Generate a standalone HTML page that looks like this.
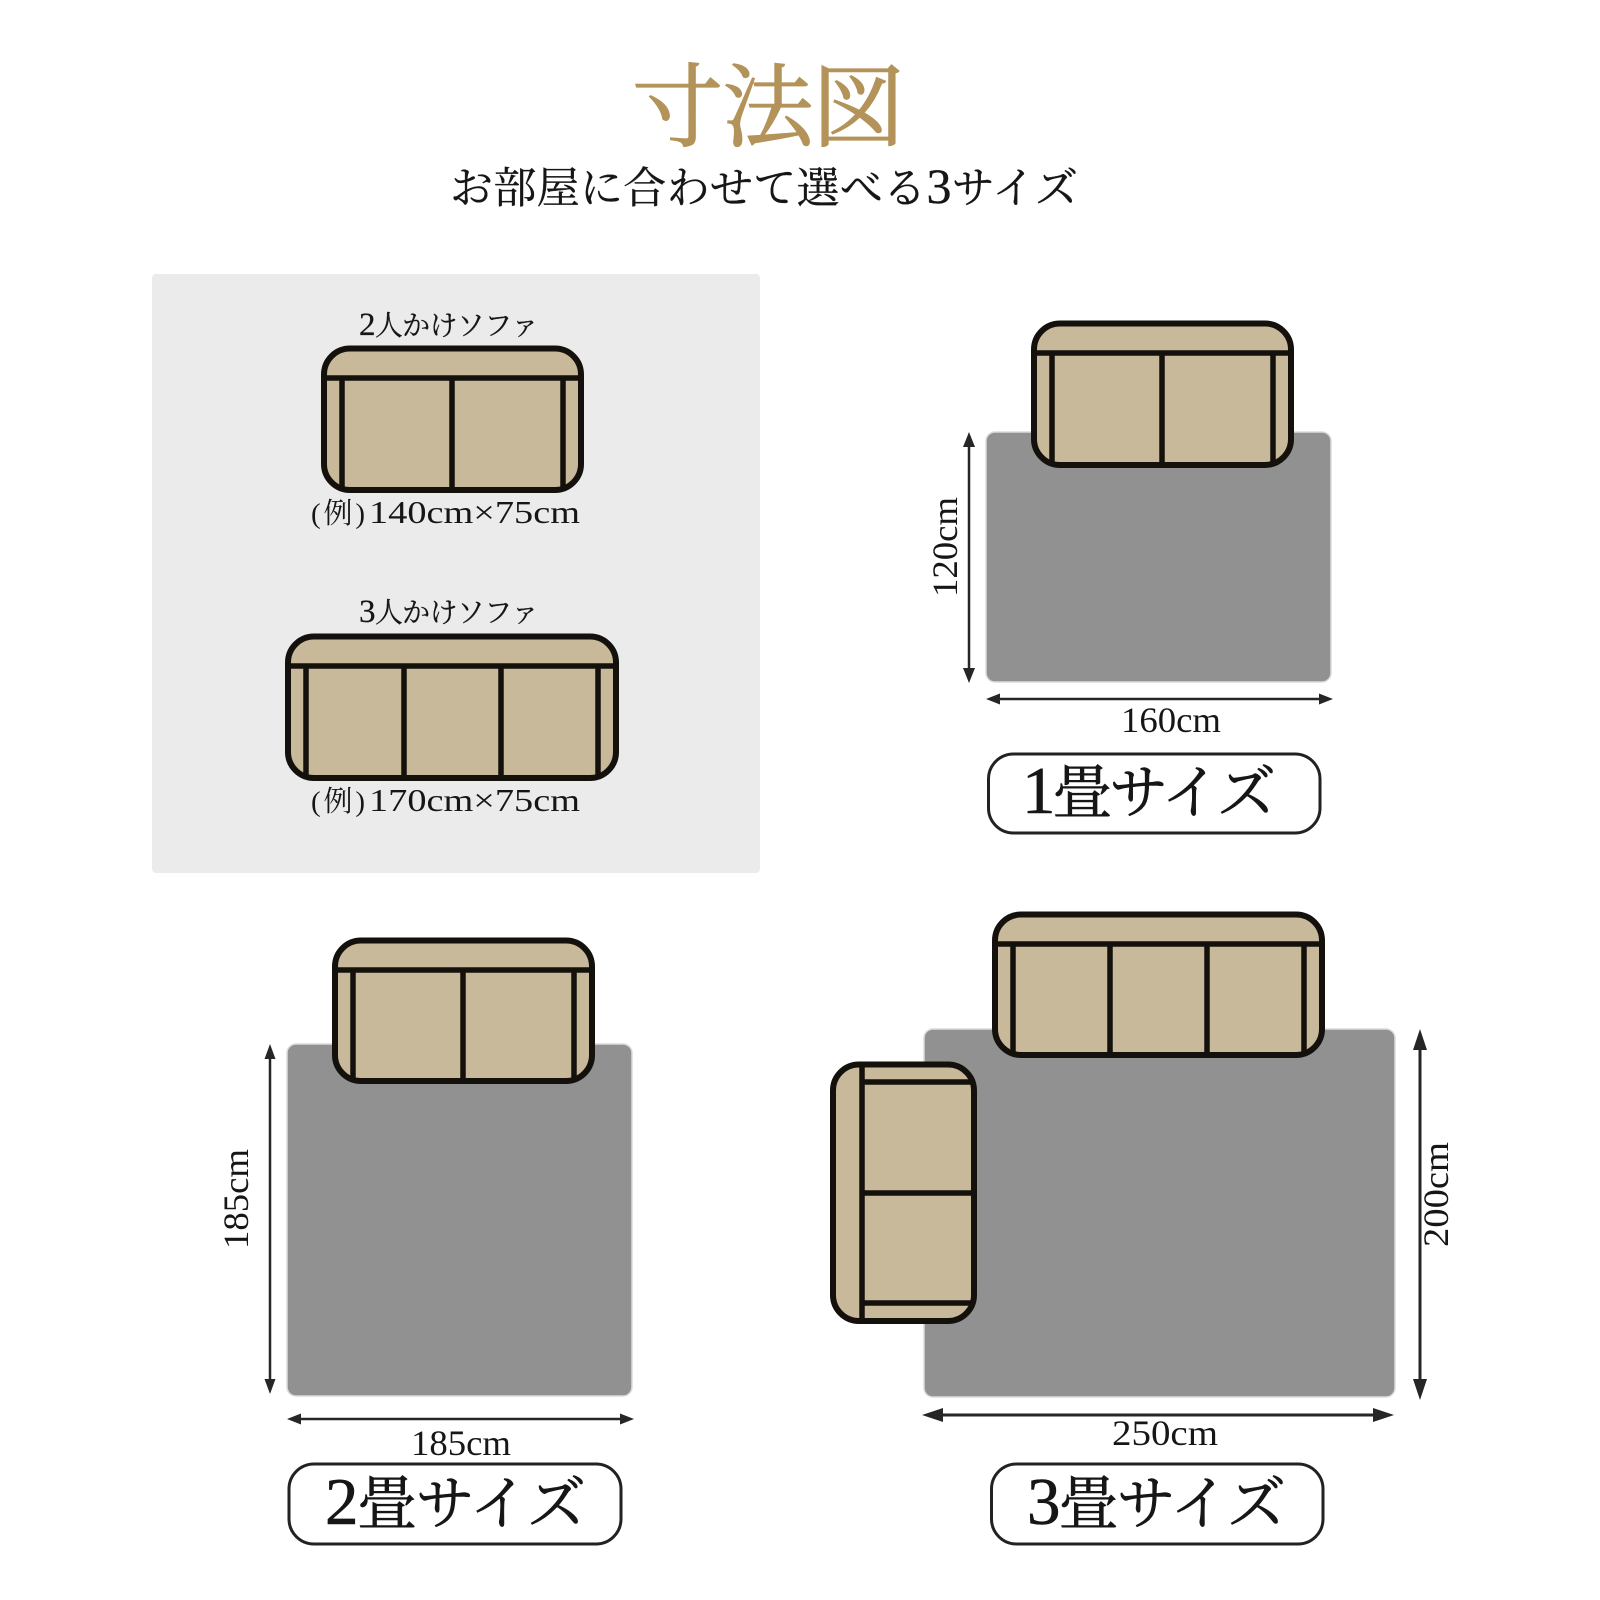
<!DOCTYPE html>
<html lang="ja">
<head>
<meta charset="utf-8">
<title>寸法図</title>
<style>
html,body{margin:0;padding:0;background:#fff;width:1600px;height:1600px;overflow:hidden}
svg{display:block}
text{font-family:"Liberation Serif","Noto Serif CJK JP","Noto Serif CJK SC",serif;fill:#161616}
.rug{fill:#919191;stroke:#dcdcdc;stroke-width:1.5}
.s{fill:#c7b999;stroke:#14110c;stroke-width:6}
.l{stroke:#14110c;stroke-width:5.500;fill:none}
.a{stroke:#262626;stroke-width:2.5}
.a3{stroke:#262626;stroke-width:3}
.h{fill:#262626}
.p{fill:#fff;stroke:#222;stroke-width:3}
.d{font-size:36px}
.n{font-size:59px;stroke:#161616;stroke-width:.6px}
.n tspan{font-size:67px}
.m{font-size:28px;stroke:#161616;stroke-width:.25px}
.m tspan{font-size:33px}
.e{font-size:32px}
.ej{font-size:29px}
</style>
</head>
<body>
<svg width="1600" height="1600" viewBox="0 0 1600 1600" xmlns="http://www.w3.org/2000/svg">
<rect width="1600" height="1600" fill="#fff"/>

<text x="632" y="139" font-size="91" textLength="272" style="fill:#b39359;stroke:#b39359;stroke-width:1.3px">寸法図</text>
<text x="450" y="203" font-size="43" textLength="628" style="stroke:#161616;stroke-width:.35px">お部屋に合わせて選べる<tspan font-size="50">3</tspan>サイズ</text>

<rect x="152" y="274" width="608" height="599" rx="4" fill="#ebebeb"/>

<text class="m" x="359" y="335" textLength="180"><tspan>2</tspan>人かけソファ</text>
<rect class="s" x="324" y="348.500" width="257" height="141.500" rx="26"/>
<path class="l" d="M323 378H582M342 378V490M452 378V490M563 378V490"/>
<text class="ej" x="311" y="523" textLength="54">(例)</text>
<text class="e" x="369" y="523" textLength="211" lengthAdjust="spacingAndGlyphs">140cm×75cm</text>

<text class="m" x="359" y="622" textLength="180"><tspan>3</tspan>人かけソファ</text>
<rect class="s" x="288" y="636.500" width="328" height="141.500" rx="26"/>
<path class="l" d="M287 666H617M306 666V778M404 666V778M501 666V778M598 666V778"/>
<text class="ej" x="311" y="811" textLength="54">(例)</text>
<text class="e" x="369" y="811" textLength="211" lengthAdjust="spacingAndGlyphs">170cm×75cm</text>

<!-- 1畳 -->
<rect class="rug" x="986" y="432" width="345" height="250" rx="9"/>
<rect class="s" x="1034" y="323.500" width="257" height="141.500" rx="26"/>
<path class="l" d="M1033 353H1292M1052 353V465M1162 353V465M1273 353V465"/>
<path class="a" d="M969 440V675"/>
<path class="h" d="M969 432L975 447H963ZM969 683L975 668H963Z"/>
<path class="a" d="M995 699H1325"/>
<path class="h" d="M986 699L1000 693.500V704.500ZM1333 699L1319 693.500V704.500Z"/>
<text class="d" x="1121" y="732" textLength="100" lengthAdjust="spacingAndGlyphs">160cm</text>
<text class="d" transform="translate(957 597) rotate(-90)" textLength="100" lengthAdjust="spacingAndGlyphs">120cm</text>
<rect class="p" x="988.500" y="754" width="331.500" height="79" rx="25"/>
<text class="n" x="1022" y="813" textLength="254"><tspan>1</tspan>畳サイズ</text>

<!-- 2畳 -->
<rect class="rug" x="287" y="1044" width="345" height="352" rx="9"/>
<rect class="s" x="335" y="940.500" width="257" height="140.500" rx="26"/>
<path class="l" d="M334 970H592M353 970V1081M463 970V1081M574 970V1081"/>
<path class="a" d="M270 1052V1386"/>
<path class="h" d="M270 1044L275.500 1059H264.500ZM270 1394L275.500 1379H264.500Z"/>
<path class="a" d="M296 1419H626"/>
<path class="h" d="M287 1419L301 1413.500V1424.500ZM634 1419L620 1413.500V1424.500Z"/>
<text class="d" x="411" y="1455" textLength="100" lengthAdjust="spacingAndGlyphs">185cm</text>
<text class="d" transform="translate(248 1249) rotate(-90)" textLength="100" lengthAdjust="spacingAndGlyphs">185cm</text>
<rect class="p" x="289" y="1464" width="332" height="80" rx="25"/>
<text class="n" x="325" y="1524" textLength="261"><tspan>2</tspan>畳サイズ</text>

<!-- 3畳 -->
<rect class="rug" x="924" y="1029" width="471" height="368" rx="9"/>
<rect class="s" x="995" y="914.500" width="327" height="140.500" rx="26"/>
<path class="l" d="M994 944H1323M1013 944V1055M1110 944V1055M1207 944V1055M1304 944V1055"/>
<rect class="s" x="833" y="1064.500" width="141" height="256.500" rx="26"/>
<path class="l" d="M862 1063V1322M862 1082H975M862 1193H975M862 1303H975"/>
<path class="a3" d="M935 1415H1380"/>
<path class="h" d="M922 1415L943 1408V1422ZM1394 1415L1373 1408V1422Z"/>
<path class="a3" d="M1420 1045V1385"/>
<path class="h" d="M1420 1029L1427 1050H1413ZM1420 1400L1427 1379H1413Z"/>
<text class="d" x="1112" y="1445" textLength="106" lengthAdjust="spacingAndGlyphs">250cm</text>
<text class="d" transform="translate(1448 1247) rotate(-90)" textLength="105" lengthAdjust="spacingAndGlyphs">200cm</text>
<rect class="p" x="991.500" y="1464" width="331.500" height="80" rx="25"/>
<text class="n" x="1027" y="1524" textLength="259"><tspan>3</tspan>畳サイズ</text>
</svg>
</body>
</html>
